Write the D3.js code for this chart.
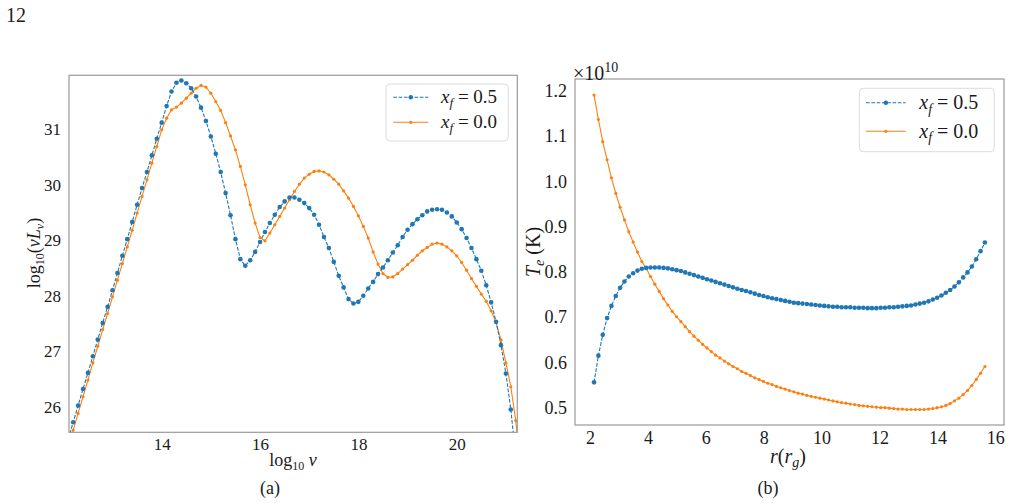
<!DOCTYPE html>
<html><head><meta charset="utf-8">
<script src="https://cdn.jsdelivr.net/npm/d3@7"></script>
<style>
body{margin:0;background:#fff}
svg text{font-family:"Liberation Serif","DejaVu Serif",serif !important;fill:#1a1a1a}
</style>
</head><body>
<svg id="c" width="1011" height="503"></svg>
<script>
// ---------- Panel (a): spectrum ----------
const logNu = [12.1,12.2,12.3,12.4,12.5,12.6,12.7,12.8,12.9,13.0,
13.1,13.2,13.3,13.4,13.5,13.6,13.7,13.8,13.9,14.0,
14.1,14.2,14.3,14.4,14.5,14.6,14.7,14.8,14.9,15.0,
15.1,15.2,15.3,15.4,15.5,15.6,15.7,15.8,15.9,16.0,
16.1,16.2,16.3,16.4,16.5,16.6,16.7,16.8,16.9,17.0,
17.1,17.2,17.3,17.4,17.5,17.6,17.7,17.8,17.9,18.0,
18.1,18.2,18.3,18.4,18.5,18.6,18.7,18.8,18.9,19.0,
19.1,19.2,19.3,19.4,19.5,19.6,19.7,19.8,19.9,20.0,
20.1,20.2,20.3,20.4,20.5,20.6,20.7,20.8,20.9,21.0,
21.1,21.2,21.3];
const lumBlue = [25.42,25.72,26.02,26.32,26.61,26.91,27.21,27.51,27.80,28.10,
28.41,28.72,29.02,29.33,29.64,29.94,30.23,30.53,30.83,31.12,
31.42,31.68,31.84,31.88,31.83,31.74,31.59,31.39,31.15,30.87,
30.56,30.23,29.85,29.45,29.02,28.66,28.54,28.64,28.79,28.97,
29.15,29.31,29.46,29.60,29.70,29.77,29.77,29.73,29.67,29.58,
29.46,29.28,29.06,28.86,28.61,28.36,28.15,27.94,27.86,27.89,
28.00,28.13,28.25,28.39,28.51,28.64,28.78,28.91,29.06,29.19,
29.29,29.38,29.45,29.52,29.55,29.56,29.55,29.50,29.43,29.32,
29.20,29.04,28.86,28.66,28.45,28.19,27.88,27.53,27.11,26.60,
25.95,25.10,24.00];
const lumOrange = [25.28,25.58,25.88,26.18,26.48,26.79,27.09,27.39,27.68,27.98,
28.28,28.58,28.88,29.18,29.49,29.79,30.09,30.39,30.69,30.99,
31.20,31.35,31.40,31.47,31.56,31.65,31.74,31.79,31.76,31.65,
31.50,31.34,31.12,30.88,30.63,30.33,30.00,29.64,29.31,29.05,
28.99,29.13,29.28,29.43,29.58,29.73,29.88,30.01,30.12,30.19,
30.24,30.25,30.23,30.18,30.10,30.01,29.89,29.76,29.61,29.44,
29.25,29.04,28.79,28.57,28.40,28.33,28.34,28.40,28.48,28.56,
28.64,28.73,28.81,28.87,28.93,28.95,28.93,28.88,28.81,28.72,
28.60,28.46,28.31,28.17,28.03,27.90,27.73,27.52,27.20,26.79,
26.36,25.75,24.90];
const ticksAx = [14,16,18,20];
const ticksAy = [26,27,28,29,30,31];

// ---------- Panel (b): electron temperature (x 1e10 K) ----------
const radius = [2.14,2.29,2.44,2.59,2.74,2.89,3.04,3.19,3.34,3.49,
3.64,3.79,3.94,4.09,4.24,4.39,4.54,4.69,4.84,4.99,
5.14,5.29,5.44,5.59,5.74,5.89,6.04,6.19,6.34,6.49,
6.64,6.79,6.94,7.09,7.24,7.39,7.54,7.69,7.84,7.99,
8.14,8.29,8.44,8.59,8.74,8.89,9.04,9.19,9.34,9.49,
9.64,9.79,9.94,10.09,10.24,10.39,10.54,10.69,10.84,10.99,
11.14,11.29,11.44,11.59,11.74,11.89,12.04,12.19,12.34,12.49,
12.64,12.79,12.94,13.09,13.24,13.39,13.54,13.69,13.84,13.99,
14.14,14.29,14.44,14.59,14.74,14.89,15.04,15.19,15.34,15.49,
15.64];
const teBlue = [0.556,0.615,0.661,0.698,0.725,0.747,0.765,0.779,0.790,0.797,
0.803,0.807,0.809,0.810,0.810,0.810,0.809,0.808,0.806,0.804,
0.802,0.799,0.796,0.793,0.790,0.787,0.784,0.781,0.778,0.775,
0.772,0.769,0.766,0.763,0.760,0.758,0.755,0.752,0.749,0.747,
0.744,0.742,0.740,0.738,0.736,0.734,0.732,0.731,0.730,0.729,
0.728,0.727,0.726,0.725,0.724,0.723,0.723,0.722,0.722,0.722,
0.721,0.721,0.721,0.720,0.720,0.720,0.721,0.721,0.722,0.722,
0.723,0.724,0.725,0.726,0.728,0.730,0.732,0.735,0.739,0.743,
0.748,0.754,0.760,0.768,0.777,0.788,0.799,0.812,0.828,0.846,
0.865];
const teOrange = [1.191,1.137,1.088,1.048,1.008,0.974,0.943,0.915,0.889,0.866,
0.844,0.823,0.808,0.790,0.773,0.757,0.741,0.727,0.713,0.701,
0.690,0.679,0.668,0.658,0.649,0.640,0.632,0.624,0.616,0.610,
0.603,0.597,0.591,0.586,0.580,0.576,0.571,0.566,0.562,0.558,
0.554,0.551,0.547,0.544,0.541,0.538,0.535,0.532,0.530,0.527,
0.525,0.523,0.521,0.519,0.517,0.515,0.513,0.511,0.510,0.508,
0.507,0.505,0.504,0.503,0.502,0.501,0.500,0.500,0.499,0.498,
0.497,0.497,0.496,0.496,0.496,0.496,0.496,0.497,0.498,0.500,
0.502,0.505,0.509,0.515,0.521,0.529,0.538,0.549,0.562,0.576,
0.591];
const ticksBx = [2,4,6,8,10,12,14,16];
const ticksBy = [0.5,0.6,0.7,0.8,0.9,1.0,1.1,1.2];

const seriesXf = ["0.5","0.0"];
const BLUE = "#1f77b4", ORANGE = "#ff7f0e";

const svg = d3.select("#c");

svg.append("text").attr("x",6).attr("y",22).attr("font-size",20).text("12");

function panel(opt){
  const g = svg.append("g");
  const x = d3.scaleLinear().domain(opt.xd).range([opt.l, opt.r]);
  const y = d3.scaleLinear().domain(opt.yd).range([opt.b, opt.t]);
  const id = "clip"+opt.name;
  svg.append("clipPath").attr("id",id).append("rect")
    .attr("x",opt.l).attr("y",opt.t).attr("width",opt.r-opt.l).attr("height",opt.b-opt.t);

  const ax = g.append("g").attr("transform",`translate(0,${opt.b})`)
    .call(d3.axisBottom(x).tickValues(opt.tx).tickSize(0).tickPadding(6).tickFormat(opt.fx));
  const ay = g.append("g").attr("transform",`translate(${opt.l},0)`)
    .call(d3.axisLeft(y).tickValues(opt.ty).tickSize(0).tickPadding(8).tickFormat(opt.fy));
  [ax,ay].forEach(a=>{
    a.attr("font-family",null).attr("font-size",null);
    a.select(".domain").remove();
    a.selectAll("text").style("font-size",opt.fs+"px").attr("fill","#1a1a1a");
  });

  const plot = g.append("g").attr("clip-path",`url(#${id})`);
  const line = d3.line().x(d=>x(d[0])).y(d=>y(d[1]));
  const dB = opt.xs.map((v,i)=>[v,opt.ys1[i]]);
  const dO = opt.xs.map((v,i)=>[v,opt.ys2[i]]);
  plot.append("path").datum(dO).attr("d",line).attr("fill","none")
    .attr("stroke",ORANGE).attr("stroke-width",1.1);
  plot.append("path").datum(dB).attr("d",line).attr("fill","none")
    .attr("stroke",BLUE).attr("stroke-width",1.1).attr("stroke-dasharray","3.7,1.6");
  plot.selectAll(".mo").data(dO).join("circle").attr("cx",d=>x(d[0])).attr("cy",d=>y(d[1]))
    .attr("r",1.6).attr("fill",ORANGE);
  plot.selectAll(".mb").data(dB).join("circle").attr("cx",d=>x(d[0])).attr("cy",d=>y(d[1]))
    .attr("r",2.3).attr("fill",BLUE);

  g.append("rect").attr("x",opt.l).attr("y",opt.t).attr("width",opt.r-opt.l).attr("height",opt.b-opt.t)
    .attr("fill","none").attr("stroke","#999").attr("stroke-width",1.2);

  const L = opt.leg;
  const lg = g.append("g");
  lg.append("rect").attr("x",L.x0).attr("y",L.y0).attr("width",L.x1-L.x0).attr("height",L.y1-L.y0)
    .attr("rx",4).attr("fill","#fff").attr("fill-opacity",0.85).attr("stroke","#dcdcdc").attr("stroke-width",1);
  seriesXf.forEach((lab,i)=>{
    const yy = L.ys[i];
    const col = i===0?BLUE:ORANGE;
    lg.append("line").attr("x1",L.lx0).attr("x2",L.lx1).attr("y1",yy).attr("y2",yy)
      .attr("stroke",col).attr("stroke-width",1.1).attr("stroke-dasharray",i===0?"3.7,1.6":null);
    lg.append("circle").attr("cx",(L.lx0+L.lx1)/2).attr("cy",yy).attr("r",i===0?2.3:1.6).attr("fill",col);
    const t = lg.append("text").attr("x",L.tx).attr("y",yy+L.dy).attr("font-size",L.fs);
    t.append("tspan").attr("font-style","italic").text("x");
    t.append("tspan").attr("font-style","italic").attr("font-size",L.fs*0.7).attr("dy",L.fs*0.22).text("f");
    t.append("tspan").attr("dy",-L.fs*0.22).text(" = "+lab);
  });
  return {x,y};
}

panel({name:"a", l:69, r:517.3, t:75.3, b:432.3, xd:[12.115,21.232], yd:[25.539,31.973],
  tx:ticksAx, ty:ticksAy, fx:d3.format("d"), fy:d3.format("d"), fs:17,
  xs:logNu, ys1:lumBlue, ys2:lumOrange,
  leg:{x0:386,x1:508.3,y0:84,y1:141,ys:[97.3,122.3],lx0:393.3,lx1:428.3,tx:441,dy:5.5,fs:19}});

panel({name:"b", l:575, r:1004, t:79, b:425, xd:[1.482,16.30], yd:[0.4617,1.2265],
  tx:ticksBx, ty:ticksBy, fx:d3.format("d"), fy:d3.format(".1f"), fs:18,
  xs:radius, ys1:teBlue, ys2:teOrange,
  leg:{x0:859.3,x1:994.3,y0:88.3,y1:151.7,ys:[102.7,131.3],lx0:866,lx1:905.7,tx:919.3,dy:6.5,fs:20}});

// left y label
let t = svg.append("text").attr("transform","translate(40,253) rotate(-90)").attr("text-anchor","middle").attr("font-size",18);
t.append("tspan").text("log");
t.append("tspan").attr("font-size",12).attr("dy",4).text("10");
t.append("tspan").attr("dy",-4).text("(");
t.append("tspan").attr("font-style","italic").text("νL");
t.append("tspan").attr("font-style","italic").attr("font-size",12).attr("dy",4).text("ν");
t.append("tspan").attr("dy",-4).text(")");
// left x label
t = svg.append("text").attr("x",293).attr("y",466).attr("text-anchor","middle").attr("font-size",18);
t.append("tspan").text("log");
t.append("tspan").attr("font-size",12).attr("dy",4).text("10");
t.append("tspan").attr("dy",-4).attr("font-style","italic").text(" ν");
svg.append("text").attr("x",270).attr("y",494).attr("text-anchor","middle").attr("font-size",18).text("(a)");

// right y label
t = svg.append("text").attr("transform","translate(540,252) rotate(-90)").attr("text-anchor","middle").attr("font-size",20);
t.append("tspan").attr("font-style","italic").text("T");
t.append("tspan").attr("font-style","italic").attr("font-size",14).attr("dy",4).text("e");
t.append("tspan").attr("dy",-4).text(" (K)");
// right x label
t = svg.append("text").attr("x",788).attr("y",463).attr("text-anchor","middle").attr("font-size",20);
t.append("tspan").attr("font-style","italic").text("r");
t.append("tspan").text("(");
t.append("tspan").attr("font-style","italic").text("r");
t.append("tspan").attr("font-style","italic").attr("font-size",14).attr("dy",4).text("g");
t.append("tspan").attr("dy",-4).text(")");
svg.append("text").attr("x",768).attr("y",494).attr("text-anchor","middle").attr("font-size",18).text("(b)");

// offset text
t = svg.append("text").attr("x",573).attr("y",80).attr("font-size",20);
t.append("tspan").text("×10");
t.append("tspan").attr("font-size",14).attr("dy",-8).text("10");
</script>
</body></html>
